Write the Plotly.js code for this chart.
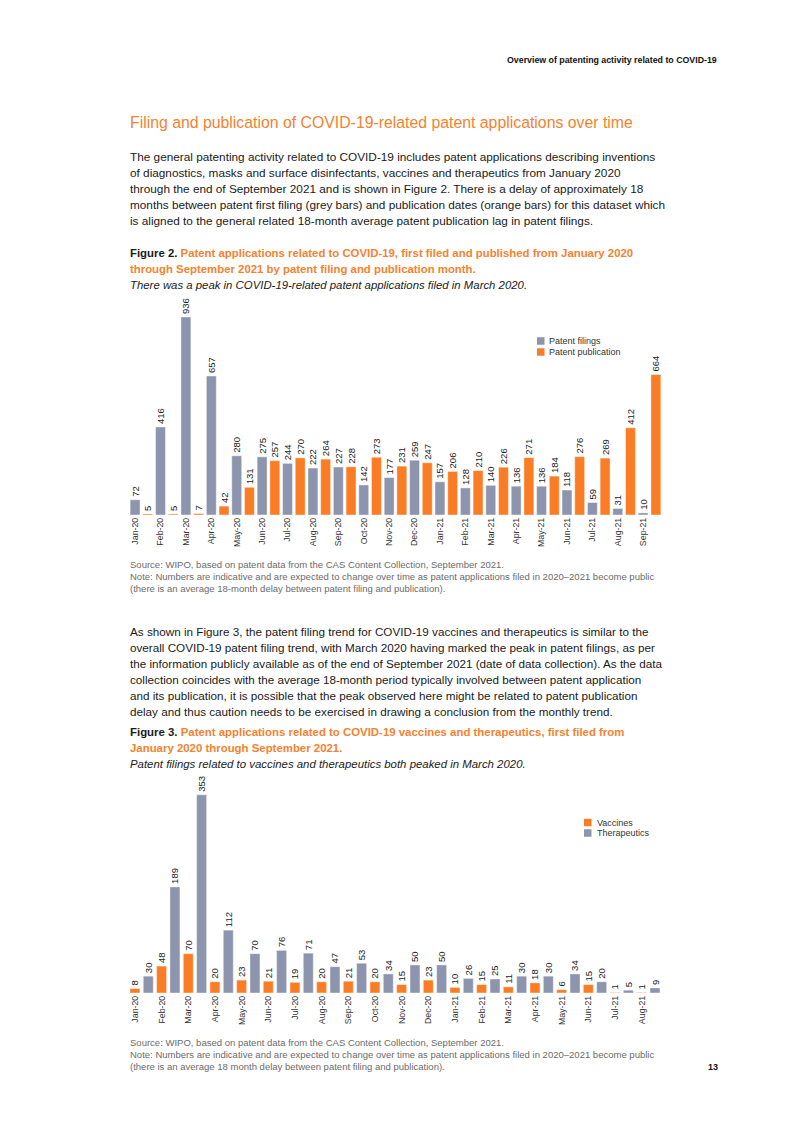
<!DOCTYPE html>
<html>
<head>
<meta charset="utf-8">
<script src="https://cdn.plot.ly/plotly-3.0.1.min.js"></script>
<style>
  html, body { margin:0; padding:0; background:#fff; }
  body { width:793px; height:1122px; position:relative; overflow:hidden;
         font-family:"Liberation Sans", Arial, Helvetica, sans-serif; color:#1a1a1a; }
  .blk { position:absolute; white-space:nowrap; }
  .ln { display:block; width:max-content; }
  .chart { position:absolute; left:0; width:793px; }
  .or { color:#f5822f; }
</style>
</head>
<body>

<div class="blk" id="hdr" data-fit style="left:507px; top:54px; font-size:8.5px; line-height:12px; font-weight:bold; color:#111;">
  <span class="ln" data-w="210">Overview of patenting activity related to COVID-19</span>
</div>

<div class="blk or" data-fit style="left:130px; top:113px; font-size:15px; line-height:20px;">
  <span class="ln" data-w="503">Filing and publication of COVID-19-related patent applications over time</span>
</div>

<div class="blk" data-fit style="left:130px; top:149px; font-size:12px; line-height:16px;">
  <span class="ln" data-w="522">The general patenting activity related to COVID-19 includes patent applications describing inventions</span>
  <span class="ln" data-w="512">of diagnostics, masks and surface disinfectants, vaccines and therapeutics from January 2020</span>
  <span class="ln" data-w="507">through the end of September 2021 and is shown in Figure 2. There is a delay of approximately 18</span>
  <span class="ln" data-w="531">months between patent first filing (grey bars) and publication dates (orange bars) for this dataset which</span>
  <span class="ln" data-w="458">is aligned to the general related 18-month average patent publication lag in patent filings.</span>
</div>

<div class="blk" data-fit style="left:130px; top:245px; font-size:11px; line-height:16px;">
  <span class="ln" data-w="506"><b>Figure 2. </b><b class="or">Patent applications related to COVID-19, first filed and published from January 2020</b></span>
  <span class="ln" data-w="347"><b class="or">through September 2021 by patent filing and publication month.</b></span>
  <span class="ln" data-w="393"><i>There was a peak in COVID-19-related patent applications filed in March 2020.</i></span>
</div>

<div id="fig2" class="chart" style="top:290px; height:265px;"></div>

<div class="blk" data-fit style="left:130px; top:559px; font-size:8.6px; line-height:12px; color:#6b6b6b;">
  <span class="ln" data-w="373">Source: WIPO, based on patent data from the CAS Content Collection, September 2021.</span>
  <span class="ln" data-w="527">Note: Numbers are indicative and are expected to change over time as patent applications filed in 2020–2021 become public</span>
  <span class="ln" data-w="315">(there is an average 18-month delay between patent filing and publication).</span>
</div>

<div class="blk" data-fit style="left:130px; top:624px; font-size:12px; line-height:16px;">
  <span class="ln" data-w="516">As shown in Figure 3, the patent filing trend for COVID-19 vaccines and therapeutics is similar to the</span>
  <span class="ln" data-w="513">overall COVID-19 patent filing trend, with March 2020 having marked the peak in patent filings, as per</span>
  <span class="ln" data-w="532">the information publicly available as of the end of September 2021 (date of data collection). As the data</span>
  <span class="ln" data-w="518">collection coincides with the average 18-month period typically involved between patent application</span>
  <span class="ln" data-w="513">and its publication, it is possible that the peak observed here might be related to patent publication</span>
  <span class="ln" data-w="486">delay and thus caution needs to be exercised in drawing a conclusion from the monthly trend.</span>
</div>

<div class="blk" data-fit style="left:130px; top:724px; font-size:11px; line-height:16px;">
  <span class="ln" data-w="496"><b>Figure 3. </b><b class="or">Patent applications related to COVID-19 vaccines and therapeutics, first filed from</b></span>
  <span class="ln" data-w="213"><b class="or">January 2020 through September 2021.</b></span>
  <span class="ln" data-w="394"><i>Patent filings related to vaccines and therapeutics both peaked in March 2020.</i></span>
</div>

<div id="fig3" class="chart" style="top:773px; height:265px;"></div>

<div class="blk" data-fit style="left:130px; top:1037px; font-size:8.6px; line-height:12px; color:#6b6b6b;">
  <span class="ln" data-w="373">Source: WIPO, based on patent data from the CAS Content Collection, September 2021.</span>
  <span class="ln" data-w="527">Note: Numbers are indicative and are expected to change over time as patent applications filed in 2020–2021 become public</span>
  <span class="ln" data-w="313">(there is an average 18 month delay between patent filing and publication).</span>
</div>

<div class="blk" style="left:708px; top:1061px; font-size:9px; line-height:12px; font-weight:bold; color:#111;">
  <span class="ln">13</span>
</div>

<script>
// ---------- DATA ----------
const months2 = ['Jan-20','Feb-20','Mar-20','Apr-20','May-20','Jun-20','Jul-20','Aug-20','Sep-20','Oct-20','Nov-20','Dec-20',
                 'Jan-21','Feb-21','Mar-21','Apr-21','May-21','Jun-21','Jul-21','Aug-21','Sep-21'];
const filings = [72,416,936,657,280,275,244,222,227,142,177,259,157,128,140,136,136,118,59,31,10];
const publications = [5,5,7,42,131,257,270,264,228,273,231,247,206,210,226,271,184,276,269,412,664];
const seriesNames2 = ['Patent filings','Patent publication'];

const months3 = ['Jan-20','Feb-20','Mar-20','Apr-20','May-20','Jun-20','Jul-20','Aug-20','Sep-20','Oct-20','Nov-20','Dec-20',
                 'Jan-21','Feb-21','Mar-21','Apr-21','May-21','Jun-21','Jul-21','Aug-21'];
const vaccines = [8,48,70,20,23,21,19,20,21,20,15,23,10,15,11,18,6,15,1,1];
const therapeutics = [30,189,353,112,70,76,71,47,53,34,50,50,26,25,30,30,34,20,5,9];
const seriesNames3 = ['Vaccines','Therapeutics'];

// ---------- STYLE ----------
const GREY = '#8d95ae', ORANGE = '#fa7d26';
const FONT = '"Liberation Sans", Arial, sans-serif';

// fit text blocks to reference widths
document.querySelectorAll('[data-fit]').forEach(b => {
  let tgt = 0, cur = 0;
  b.querySelectorAll('.ln').forEach(l => { tgt += +l.dataset.w; cur += l.getBoundingClientRect().width; });
  const fs = parseFloat(getComputedStyle(b).fontSize);
  b.style.fontSize = (fs * tgt / cur).toFixed(2) + 'px';
});

function barTrace(x, y, name, color, offset, width) {
  return {
    type:'bar', x:x, y:y, name:name, offset:offset, width:width,
    marker:{color:color, line:{color:'rgba(255,255,255,0.7)', width:0.6}},
    text:y.map(String), textposition:'outside', textangle:-90,
    textfont:{size:9.5, color:'#222', family:FONT},
    constraintext:'none', cliponaxis:false, hoverinfo:'skip'
  };
}

function legendItems(M, plotW, plotH, top, items) {
  const shapes = [], annos = [];
  const px = x => (x - M.l) / plotW;
  const py = y => (top + M.t + plotH - y) / plotH;
  items.forEach(it => {
    shapes.push({type:'rect', xref:'paper', yref:'paper',
      x0:px(it.sqLeft), x1:px(it.sqLeft+7.5), y0:py(it.rowCenter+3.75), y1:py(it.rowCenter-3.75),
      fillcolor:it.color, line:{width:0}});
    annos.push({xref:'paper', yref:'paper', x:px(it.textLeft), y:py(it.rowCenter),
      xanchor:'left', yanchor:'middle', text:it.name, showarrow:false,
      font:{size:9, color:'#333', family:FONT}});
  });
  return {shapes, annos};
}

function makeLayout(M, xrange, yrange, leg) {
  return {
    width:793, height:265, margin:M, showlegend:false,
    paper_bgcolor:'rgba(0,0,0,0)', plot_bgcolor:'rgba(0,0,0,0)',
    font:{family:FONT},
    barmode:'overlay',
    xaxis:{type:'category', range:xrange, showgrid:false, zeroline:false, showline:false,
           ticks:'', tickangle:-90, tickfont:{size:8.8, color:'#333', family:FONT}, automargin:false, fixedrange:true},
    yaxis:{range:yrange, visible:false, showgrid:false, zeroline:false, automargin:false, fixedrange:true},
    shapes:leg.shapes, annotations:leg.annos
  };
}

// Figure 2
const M2 = {l:129, r:131, t:5, b:40};
const leg2 = legendItems(M2, 533, 220, 290, [
  {name:seriesNames2[0], color:GREY, sqLeft:537, rowCenter:341, textLeft:547},
  {name:seriesNames2[1], color:ORANGE, sqLeft:537, rowCenter:352, textLeft:547}
]);
Plotly.newPlot('fig2', [
  barTrace(months2, filings, seriesNames2[0], GREY, -0.195, 0.39),
  barTrace(months2, publications, seriesNames2[1], ORANGE, 0.305, 0.39)
], makeLayout(M2, [-0.24, 20.74], [0, 1040], leg2), {staticPlot:true});

// Figure 3
const M3 = {l:129, r:131, t:5, b:45};
const leg3 = legendItems(M3, 533, 215, 773, [
  {name:seriesNames3[0], color:ORANGE, sqLeft:584, rowCenter:822.5, textLeft:594.5},
  {name:seriesNames3[1], color:GREY, sqLeft:584, rowCenter:833, textLeft:594.5}
]);
Plotly.newPlot('fig3', [
  barTrace(months3, vaccines, seriesNames3[0], ORANGE, -0.19, 0.375),
  barTrace(months3, therapeutics, seriesNames3[1], GREY, 0.31, 0.375)
], makeLayout(M3, [-0.225, 19.76], [0, 383], leg3), {staticPlot:true});
</script>
</body>
</html>
